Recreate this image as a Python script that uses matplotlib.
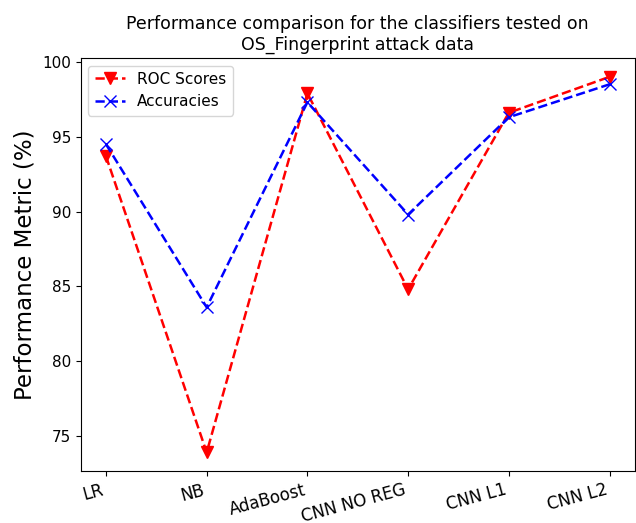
import matplotlib.pyplot as plt

classifiers = ["LR", "NB", "AdaBoost", "CNN NO REG", "CNN L1", "CNN L2"]
roc_scores = [93.7, 73.9, 97.9, 84.8, 96.6, 99.0]
accuracies = [94.5, 83.6, 97.3, 89.8, 96.3, 98.5]

fig, ax = plt.subplots(figsize=(6.36, 5.23), dpi=100)
fig.subplots_adjust(left=0.127, right=0.998, top=0.889, bottom=0.099)

ax.plot(classifiers, roc_scores, "rv--", markersize=8, linewidth=1.8, label="ROC Scores")
ax.plot(classifiers, accuracies, "bx--", markersize=8, linewidth=1.8, label="Accuracies")

ax.set_title("Performance comparison for the classifiers tested on\nOS_Fingerprint attack data",
             fontsize=12.5)
ax.set_ylabel("Performance Metric (%)", fontsize=16.5)
ax.tick_params(axis="y", labelsize=11)
plt.setp(ax.get_xticklabels(), rotation=15, ha="right", fontsize=12)
ax.legend(loc="upper left", fontsize=11)

fig.savefig("out.png", dpi=100)
